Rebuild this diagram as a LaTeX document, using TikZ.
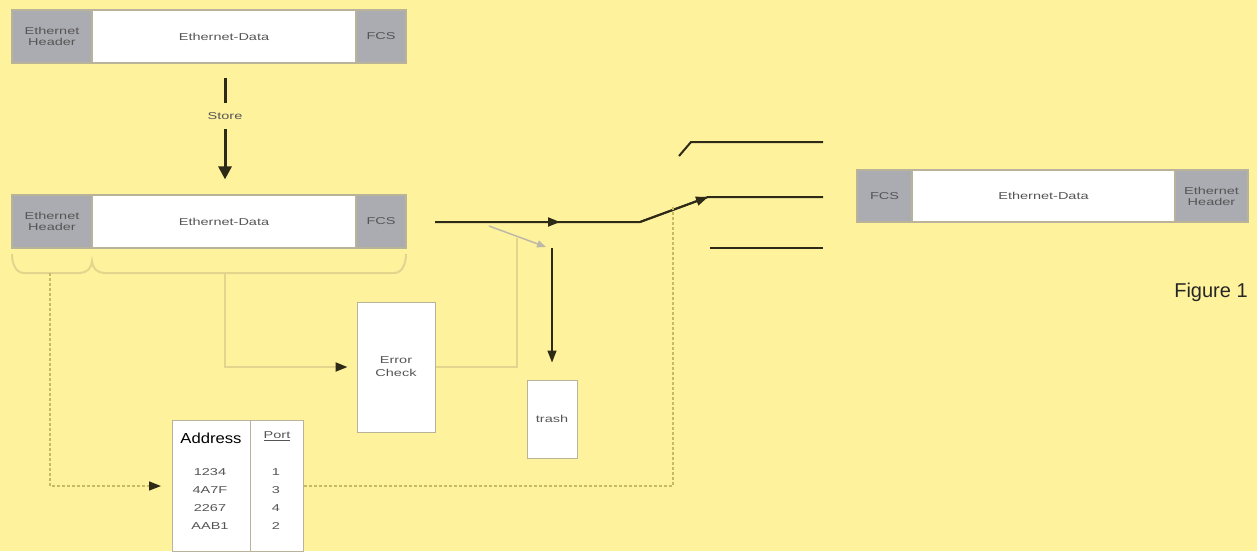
\documentclass[tikz,border=0pt]{standalone}
\usepackage{fontspec}
\setmainfont{Liberation Sans}
\newfontfamily\lab[FakeStretch=1.45]{Liberation Sans}
\newfontfamily\wider[FakeStretch=1.15]{Liberation Sans}
\usetikzlibrary{arrows.meta,calc}
\definecolor{bg}{HTML}{FEF29C}
\definecolor{segg}{HTML}{ABABB2}
\definecolor{segborder}{HTML}{B9B39A}
\definecolor{pale}{HTML}{E2D58E}
\definecolor{dashc}{HTML}{C8B964}
\definecolor{ink}{HTML}{2E2A18}
\definecolor{txt}{HTML}{555555}
\definecolor{armc}{HTML}{BDB8A8}
\begin{document}
\begin{tikzpicture}[x=1pt,y=-1pt,
  seg/.style={draw=segborder, line width=1.2pt, fill=segg, inner sep=0pt, minimum height=53pt, font=\lab\fontsize{10}{11}\selectfont, text=txt, align=center},
  dataseg/.style={seg, fill=white},
  box/.style={draw=segborder, line width=1pt, fill=white, inner sep=0pt, text=txt, align=center, font=\lab\fontsize{10}{13}\selectfont},
  small/.style={font=\lab\fontsize{10}{11}\selectfont, text=txt, inner sep=0pt},
  inkline/.style={draw=ink, line width=2pt},
  paleline/.style={draw=pale, line width=2pt},
  dashline/.style={draw=dashc, line width=1.6pt, dash pattern=on 3pt off 2pt},
  tip/.style={-{Triangle[length=12pt,width=9pt,color=ink]}}
]
\useasboundingbox[fill=bg] (0,0) rectangle (1257,551);

% frame 1
\node[seg, minimum width=80pt] (h1) at (52,36.5) {Ethernet\\Header};
\node[dataseg, minimum width=264pt] (d1) at (224,36.5) {Ethernet-Data};
\node[seg, minimum width=50pt] (f1) at (381,36.5) {FCS};

% store arrow
\coordinate (s0) at (225,78);
\node[small] (store) at (225,116) {Store};
\coordinate (s1) at (225,103);
\coordinate (s2) at (225,129);
\draw[ink, line width=3pt] (s0) -- (s1);
% frame 2
\node[seg, minimum width=80pt] (h2) at (52,221.5) {Ethernet\\Header};
\node[dataseg, minimum width=264pt] (d2) at (224,221.5) {Ethernet-Data};
\node[seg, minimum width=50pt] (f2) at (381,221.5) {FCS};
\draw[ink, line width=3pt, -{Triangle[length=13pt,width=13pt]}, shorten >=15pt] (s2) -- (s2 |- d2.north);

% braces
\coordinate (b1) at (50,273);
\coordinate (b2) at (225,273);
\draw[paleline] (12,254) to[out=-90,in=180] (24,273) -- (80,273) to[out=0,in=-90] (92,261) to[out=-90,in=180] (104,273) -- (394,273) to[out=0,in=-90] (406,254);

% frame 3
\node[seg, minimum width=55pt, minimum height=52pt] (f3) at (884.5,196) {FCS};
\node[dataseg, minimum width=263pt, minimum height=52pt] (d3) at (1043.5,196) {Ethernet-Data};
\node[seg, minimum width=73pt, minimum height=52pt] (h3) at (1211.5,196) {Ethernet\\Header};

% boxes
\node[box, minimum width=78pt, minimum height=130pt] (err) at (396,367) {Error\\Check};
\node[box, minimum width=50pt, minimum height=78pt] (trash) at (552,419) {trash};
\node[box, minimum width=78pt, minimum height=131pt, anchor=north west] (addr) at (172,420) {};
\node[box, minimum width=53pt, minimum height=131pt, anchor=north west] (port) at (250,420) {};
\node[font=\wider\fontsize{14.5}{16}\selectfont, text=black, inner sep=0pt] (addrh) at (211,438) {Address};
\node[small] (porth) at (277,436) {\underline{Port}};
\node[small, align=center, font=\lab\fontsize{10}{18}\selectfont] (addrv) at (210,499) {1234\\4A7F\\2267\\AAB1};
\node[small, align=center, font=\lab\fontsize{10}{18}\selectfont] (portv) at (276,499) {1\\3\\4\\2};

% figure label
\node[font=\fontsize{20}{22}\selectfont, text=black!85, inner sep=0pt] (fig) at (1211,292) {Figure 1};

% main switched path
\coordinate (m0) at (435,222);
\coordinate (ma) at (560,222);
\coordinate (m1) at (640,222);
\coordinate (sw) at (708,197);
\coordinate (o1a) at (679,156);
\coordinate (o1b) at (691,142);
\coordinate (o1e) at (823,142);
\coordinate (o2e) at (823,197);
\coordinate (o3a) at (710,248);
\coordinate (o3e) at (823,248);
\draw[inkline] (m0) -- (m1) -- (sw) -- (o2e);
\draw[inkline, tip] (m0) -- (ma);
\draw[inkline, tip] (m1) -- (sw);
\draw[inkline] (o1a) -- (o1b) -- (o1e);
\draw[inkline] (o3a) -- (o3e);

% discard branch
\coordinate (arm0) at (489,226);
\coordinate (arm1) at (546,247);
\draw[draw=armc, line width=1.5pt, -{Triangle[length=9pt,width=7pt,color=armc]}] (arm0) -- (arm1);
\coordinate (t0) at (552,248);
\draw[draw=ink, line width=1.5pt, tip, shorten >=17pt] (t0) -- (trash.north);

% error check control
\coordinate (ec) at (517,238);
\draw[paleline, tip, shorten >=9pt] (b2) |- (err.west);
\draw[paleline] (err.east) -| (ec);

% address lookup control
\coordinate (ctl) at (673,205);
\draw[dashline, tip, shorten >=11pt] (b1) |- (addr.west);
\draw[dashline] (port.east) -| (ctl);
\end{tikzpicture}
\end{document}
